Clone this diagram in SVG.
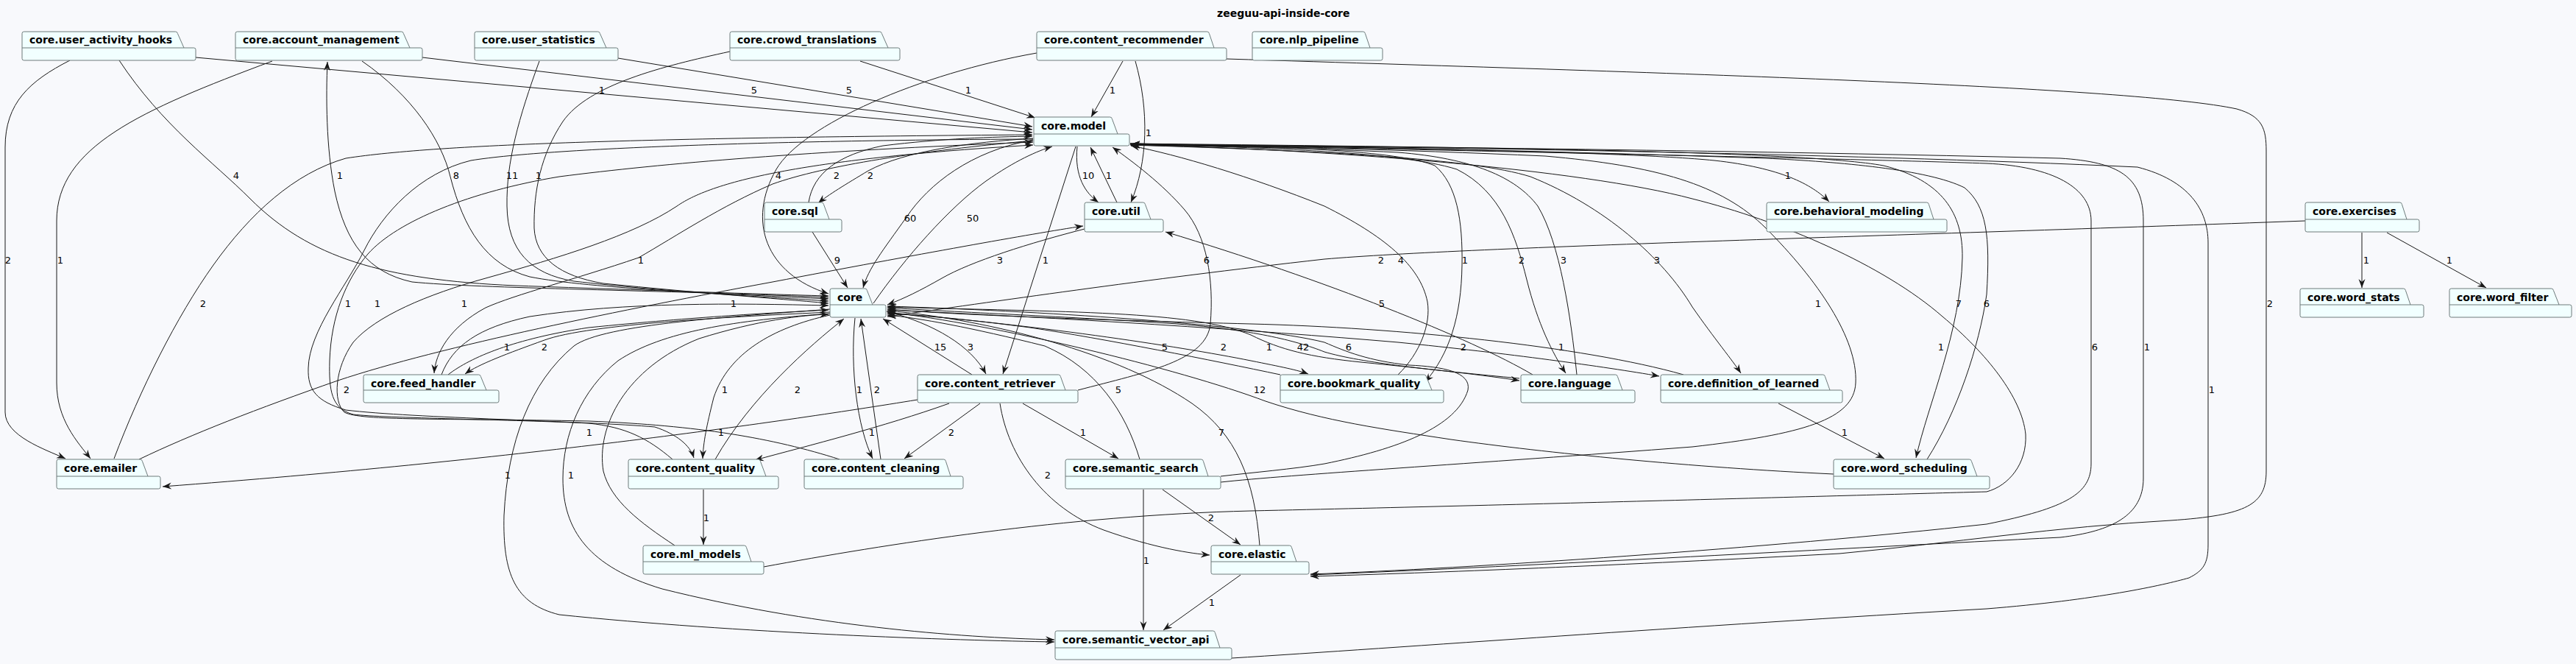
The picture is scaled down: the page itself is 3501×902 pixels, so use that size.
<svg xmlns="http://www.w3.org/2000/svg" width="3501" height="902" viewBox="0 0 3501 902">
<defs>
<style>
.pk{fill:#F1FFFF;stroke:#6E7B7B;stroke-width:1}
.tl{fill:none;stroke:#6E7B7B;stroke-width:1}
.nt{font-family:"DejaVu Sans",sans-serif;font-weight:bold;font-size:14px;fill:#000}
.e{fill:none;stroke:#181818;stroke-width:1;marker-end:url(#ah)}
.lb{font-family:"DejaVu Sans",sans-serif;font-size:13px;fill:#000;text-anchor:middle}
</style>
<marker id="ah" viewBox="0 0 12 10" refX="12" refY="5" markerWidth="12" markerHeight="10" markerUnits="userSpaceOnUse" orient="auto"><path d="M0,0.5 L12,5 L0,9.5 L4,5 Z" fill="#181818"/></marker>
</defs>
<rect x="0" y="0" width="3501" height="902" fill="#F8F9FC"/>
<text x="1654" y="23" class="nt">zeeguu-api-inside-core</text>

<g id="connectors">
<path class="e" d="M266,78 L1403,180"/>
<path class="e" d="M574,78 L1403,176"/>
<path class="e" d="M840,79 L1403,172"/>
<path class="e" d="M1169,83 L1407,160"/>
<path class="e" d="M1526,83 L1483,159"/>
<path class="e" d="M1543,83 C1562,150 1560,220 1537,275"/>
<path class="e" d="M1409,72 C1250,100 1090,170 1055,230 C1015,300 1040,372 1126,399"/>
<path class="e" d="M1667,80 C2300,100 2900,118 3040,148 C3075,158 3080,175 3080,205 L3080,640 C3080,685 3055,700 2950,707 C2800,715 2650,738 2500,752 C2200,768 1950,778 1781,783"/>
<path class="e" d="M95,82 C40,110 7,140 7,200 L7,560 C7,592 60,610 89,623"/>
<path class="e" d="M370,83 C190,150 77,200 77,300 L77,520 C77,570 105,600 123,623"/>
<path class="e" d="M162,82 C220,170 290,220 340,270 C420,350 520,380 700,388 C900,395 1050,400 1126,402"/>
<path class="e" d="M1126,404 C900,394 650,392 560,383 C500,370 470,330 455,260 C443,200 443,130 445,84"/>
<path class="e" d="M492,83 C560,130 600,190 612,240 C630,310 660,360 720,376 C800,392 1000,400 1126,406"/>
<path class="e" d="M733,83 C705,160 688,220 689,280 C690,340 720,372 780,382 C900,396 1050,404 1126,409"/>
<path class="e" d="M992,70 C900,90 800,115 765,165 C735,210 725,260 726,310 C728,350 760,375 820,385 C950,398 1050,405 1126,412"/>
<path class="e" d="M1099,275 C1105,235 1140,210 1200,198 C1280,188 1350,186 1403,185"/>
<path class="e" d="M1404,188 C1320,193 1230,205 1180,232 C1150,250 1125,265 1112,276"/>
<path class="e" d="M1464,199 C1460,240 1475,262 1493,275"/>
<path class="e" d="M1518,275 L1482,200"/>
<path class="e" d="M1536,195 C1800,200 2200,205 2330,218 C2420,228 2462,250 2486,274"/>
<path class="e" d="M1404,190 C1320,205 1262,250 1232,295 C1200,340 1180,365 1173,391"/>
<path class="e" d="M1187,412 C1230,350 1290,282 1340,246 C1380,218 1410,205 1430,199"/>
<path class="e" d="M1104,315 L1152,391"/>
<path class="e" d="M1474,311 C1400,330 1320,355 1280,378 C1250,395 1230,405 1206,414"/>
<path class="e" d="M1462,199 L1363,508"/>
<path class="e" d="M1465,530 C1560,505 1640,490 1645,440 C1650,380 1640,320 1610,285 C1580,250 1540,220 1512,200"/>
<path class="e" d="M1321,509 L1200,433"/>
<path class="e" d="M1205,423 C1270,440 1320,470 1340,508"/>
<path class="e" d="M972,624 C1020,540 1100,470 1147,433"/>
<path class="e" d="M1128,428 C1050,445 990,480 970,540 C960,580 956,600 955,623"/>
<path class="e" d="M1162,432 C1155,500 1165,580 1186,623"/>
<path class="e" d="M1197,624 L1170,433"/>
<path class="e" d="M1332,548 L1229,623"/>
<path class="e" d="M1290,548 C1200,580 1100,605 1026,625"/>
<path class="e" d="M1390,548 L1520,623"/>
<path class="e" d="M1359,548 C1370,620 1420,690 1500,720 C1570,745 1620,752 1644,754"/>
<path class="e" d="M1549,624 C1530,560 1490,500 1420,470 C1320,445 1250,432 1206,428"/>
<path class="e" d="M1712,741 C1705,650 1680,590 1620,548 C1520,480 1350,435 1206,422"/>
<path class="e" d="M1554,665 L1554,856"/>
<path class="e" d="M1580,665 L1686,740"/>
<path class="e" d="M1686,781 L1581,856"/>
<path class="e" d="M956,665 L956,740"/>
<path class="e" d="M2417,548 L2561,623"/>
<path class="e" d="M3210,316 L3210,391"/>
<path class="e" d="M3244,316 L3379,391"/>
<path class="e" d="M3133,300 C2600,320 2000,335 1800,352 C1550,380 1350,410 1206,430"/>
<path class="e" d="M2083,509 C2000,460 1800,380 1584,315"/>
<path class="e" d="M1536,196 C1700,200 1900,205 1980,230 C2040,260 2060,320 2075,380 C2090,440 2110,480 2128,507"/>
<path class="e" d="M2143,509 C2135,430 2120,330 2090,280 C2060,240 2000,215 1900,207 C1800,202 1650,198 1537,197"/>
<path class="e" d="M1536,197 C1800,205 2000,215 2080,240 C2180,280 2260,350 2300,417 C2330,460 2355,490 2366,507"/>
<path class="e" d="M1900,509 C1930,480 1945,440 1940,410 C1930,360 1880,320 1800,280 C1700,240 1600,210 1537,198"/>
<path class="e" d="M1536,196 C1750,198 1900,205 1950,225 C1980,250 1988,300 1987,360 C1986,430 1970,480 1937,519"/>
<path class="e" d="M1536,195 C2000,200 2450,205 2560,225 C2640,245 2668,290 2667,350 C2665,450 2620,550 2604,622"/>
<path class="e" d="M2619,624 C2660,560 2690,470 2700,400 C2705,320 2700,280 2670,255 C2620,230 2500,220 2400,215 C2100,205 1800,198 1537,196"/>
<path class="e" d="M1659,655 C1750,645 2000,630 2300,607 C2450,590 2520,570 2522,520 C2525,460 2470,380 2400,310 C2340,250 2250,225 2100,212 C1900,203 1700,198 1537,197"/>
<path class="e" d="M1038,770 C1200,740 1450,700 1700,694 C2100,685 2550,672 2700,668 C2730,660 2755,630 2753,590 C2748,540 2700,480 2640,430 C2560,360 2420,300 2300,270 C2150,230 1800,202 1537,197"/>
<path class="e" d="M1536,195 C2000,205 2500,215 2700,222 C2790,226 2842,255 2842,300 L2842,630 C2842,670 2810,690 2700,712 C2400,745 2000,772 1781,780"/>
<path class="e" d="M1781,781 C2100,768 2500,745 2800,730 C2870,722 2913,700 2913,650 L2913,300 C2913,240 2880,220 2800,215 C2400,205 1900,199 1537,196"/>
<path class="e" d="M1674,894 C1900,880 2300,850 2700,827 C2850,815 2940,795 2975,785 C2995,775 3001,765 3001,740 L3001,330 C3001,285 2975,245 2905,227 C2500,208 1900,199 1537,196"/>
<path class="e" d="M2492,644 C2300,635 2100,615 1972,597 C1880,583 1800,572 1720,545 C1600,500 1350,440 1206,424"/>
<path class="e" d="M1659,647 C1700,642 1760,637 1800,630 C1900,610 1980,580 1995,530 C2000,505 1960,498 1915,496 C1860,490 1830,478 1800,465 C1700,440 1400,422 1206,416"/>
<path class="e" d="M1206,417 C1450,424 1620,422 1700,455 C1740,475 1780,485 1850,492 C1950,502 2020,510 2065,517"/>
<path class="e" d="M2065,514 C1950,503 1850,493 1800,478 C1760,462 1700,448 1600,440 C1450,430 1300,424 1206,418"/>
<path class="e" d="M2288,509 C2150,470 1900,445 1700,440 C1500,435 1300,428 1206,420"/>
<path class="e" d="M1206,421 C1450,432 1700,448 1900,465 C2050,480 2180,498 2255,511"/>
<path class="e" d="M1206,425 C1400,440 1600,470 1700,490 C1740,498 1765,503 1778,508"/>
<path class="e" d="M1740,509 C1650,490 1500,460 1400,445 C1300,432 1250,428 1206,426"/>
<path class="e" d="M155,623 C190,530 240,430 290,360 C340,290 400,235 470,215 C600,195 900,187 1403,183"/>
<path class="e" d="M1404,189 C1100,190 750,200 640,218 C570,235 520,290 495,340 C470,390 420,450 419,500 C418,530 430,545 470,557 C560,568 800,572 890,580 C920,590 938,605 943,622"/>
<path class="e" d="M914,624 C880,595 850,580 800,575 C700,570 520,568 480,563 C450,555 447,530 448,490 C450,430 470,380 500,345 C540,300 640,260 760,240 C900,222 1100,205 1404,193"/>
<path class="e" d="M1141,624 C1050,595 950,578 800,572 C600,568 490,572 468,560 C452,545 455,500 480,465 C510,430 580,400 660,378 C760,350 860,320 920,280 C970,245 1100,215 1404,197"/>
<path class="e" d="M1404,191 C1250,205 1120,225 1050,250 C980,280 920,320 868,350 C780,380 700,400 660,418 C610,445 592,480 590,507"/>
<path class="e" d="M1128,424 C1000,430 800,440 740,462 C690,480 650,495 632,508"/>
<path class="e" d="M609,509 C640,485 700,460 800,445 C950,430 1050,425 1126,421"/>
<path class="e" d="M600,509 C615,470 650,445 720,430 C850,410 1000,412 1126,415"/>
<path class="e" d="M189,624 C260,590 350,555 459,517 C600,470 850,420 1050,383 C1250,345 1400,318 1472,307"/>
<path class="e" d="M1247,543 C1050,575 700,625 221,661"/>
<path class="e" d="M1128,420 C1000,430 820,440 780,470 C720,520 690,600 685,700 C683,780 700,820 760,835 C1000,860 1300,870 1433,872"/>
<path class="e" d="M1128,426 C1000,435 900,450 840,490 C790,530 765,590 765,650 C765,720 800,770 900,800 C1100,850 1300,866 1433,869"/>
<path class="e" d="M917,741 C870,710 830,680 820,640 C810,580 850,500 950,460 C1030,435 1090,428 1126,427"/>
</g>

<g id="edge-labels">
<text class="lb" x="818" y="127">1</text>
<text class="lb" x="1025" y="127">5</text>
<text class="lb" x="1154" y="127">5</text>
<text class="lb" x="1316" y="127">1</text>
<text class="lb" x="1512" y="127">1</text>
<text class="lb" x="1561" y="185">1</text>
<text class="lb" x="321" y="243">4</text>
<text class="lb" x="462" y="243">1</text>
<text class="lb" x="620" y="243">8</text>
<text class="lb" x="696" y="243">11</text>
<text class="lb" x="732" y="243">1</text>
<text class="lb" x="1058" y="243">4</text>
<text class="lb" x="1137" y="243">2</text>
<text class="lb" x="1183" y="243">2</text>
<text class="lb" x="1479" y="243">10</text>
<text class="lb" x="1507" y="243">1</text>
<text class="lb" x="2430" y="243">1</text>
<text class="lb" x="1237" y="301">60</text>
<text class="lb" x="1322" y="301">50</text>
<text class="lb" x="11" y="358">2</text>
<text class="lb" x="82" y="358">1</text>
<text class="lb" x="871" y="358">1</text>
<text class="lb" x="1138" y="358">9</text>
<text class="lb" x="1359" y="358">3</text>
<text class="lb" x="1421" y="358">1</text>
<text class="lb" x="1640" y="358">6</text>
<text class="lb" x="1877" y="358">2</text>
<text class="lb" x="1904" y="358">4</text>
<text class="lb" x="1991" y="358">1</text>
<text class="lb" x="2068" y="358">2</text>
<text class="lb" x="2125" y="358">3</text>
<text class="lb" x="2252" y="358">3</text>
<text class="lb" x="3216" y="358">1</text>
<text class="lb" x="3329" y="358">1</text>
<text class="lb" x="276" y="417">2</text>
<text class="lb" x="473" y="417">1</text>
<text class="lb" x="513" y="417">1</text>
<text class="lb" x="631" y="417">1</text>
<text class="lb" x="997" y="417">1</text>
<text class="lb" x="1878" y="417">5</text>
<text class="lb" x="2471" y="417">1</text>
<text class="lb" x="2662" y="417">7</text>
<text class="lb" x="2700" y="417">6</text>
<text class="lb" x="3085" y="417">2</text>
<text class="lb" x="689" y="476">1</text>
<text class="lb" x="740" y="476">2</text>
<text class="lb" x="1278" y="476">15</text>
<text class="lb" x="1319" y="476">3</text>
<text class="lb" x="1583" y="476">5</text>
<text class="lb" x="1663" y="476">2</text>
<text class="lb" x="1725" y="476">1</text>
<text class="lb" x="1771" y="476">42</text>
<text class="lb" x="1833" y="476">6</text>
<text class="lb" x="1989" y="476">2</text>
<text class="lb" x="2122" y="476">1</text>
<text class="lb" x="2638" y="476">1</text>
<text class="lb" x="2847" y="476">6</text>
<text class="lb" x="2918" y="476">1</text>
<text class="lb" x="471" y="534">2</text>
<text class="lb" x="985" y="534">1</text>
<text class="lb" x="1084" y="534">2</text>
<text class="lb" x="1168" y="534">1</text>
<text class="lb" x="1192" y="534">2</text>
<text class="lb" x="1520" y="534">5</text>
<text class="lb" x="1712" y="534">12</text>
<text class="lb" x="3006" y="534">1</text>
<text class="lb" x="801" y="592">1</text>
<text class="lb" x="980" y="592">1</text>
<text class="lb" x="1185" y="592">1</text>
<text class="lb" x="1293" y="592">2</text>
<text class="lb" x="1472" y="592">1</text>
<text class="lb" x="1660" y="592">7</text>
<text class="lb" x="2507" y="592">1</text>
<text class="lb" x="690" y="650">1</text>
<text class="lb" x="776" y="650">1</text>
<text class="lb" x="1424" y="650">2</text>
<text class="lb" x="960" y="708">1</text>
<text class="lb" x="1646" y="708">2</text>
<text class="lb" x="1558" y="766">1</text>
<text class="lb" x="1647" y="823">1</text>
</g>

<g id="n-user_activity_hooks"><path class="pk" d="M32.5,43 L238.5,43 Q241,43 241.4,45.5 L250,65 L263.5,65 Q266,65 266,67.5 L266,79.5 Q266,82 263.5,82 L32.5,82 Q30,82 30,79.5 L30,45.5 Q30,43 32.5,43 Z"/><path class="tl" d="M30,65 L250,65"/><text class="nt" x="40" y="59">core.user_activity_hooks</text></g>
<g id="n-account_management"><path class="pk" d="M322.5,43 L545.5,43 Q548,43 548.4,45.5 L557,65 L571.5,65 Q574,65 574,67.5 L574,79.5 Q574,82 571.5,82 L322.5,82 Q320,82 320,79.5 L320,45.5 Q320,43 322.5,43 Z"/><path class="tl" d="M320,65 L557,65"/><text class="nt" x="330" y="59">core.account_management</text></g>
<g id="n-user_statistics"><path class="pk" d="M647.5,43 L812.5,43 Q815,43 815.4,45.5 L824,65 L837.5,65 Q840,65 840,67.5 L840,79.5 Q840,82 837.5,82 L647.5,82 Q645,82 645,79.5 L645,45.5 Q645,43 647.5,43 Z"/><path class="tl" d="M645,65 L824,65"/><text class="nt" x="655" y="59">core.user_statistics</text></g>
<g id="n-crowd_translations"><path class="pk" d="M994.5,43 L1195.5,43 Q1198,43 1198.4,45.5 L1207,65 L1220.5,65 Q1223,65 1223,67.5 L1223,79.5 Q1223,82 1220.5,82 L994.5,82 Q992,82 992,79.5 L992,45.5 Q992,43 994.5,43 Z"/><path class="tl" d="M992,65 L1207,65"/><text class="nt" x="1002" y="59">core.crowd_translations</text></g>
<g id="n-content_recommender"><path class="pk" d="M1411.5,43 L1640.5,43 Q1643,43 1643.4,45.5 L1650,65 L1664.5,65 Q1667,65 1667,67.5 L1667,79.5 Q1667,82 1664.5,82 L1411.5,82 Q1409,82 1409,79.5 L1409,45.5 Q1409,43 1411.5,43 Z"/><path class="tl" d="M1409,65 L1650,65"/><text class="nt" x="1419" y="59">core.content_recommender</text></g>
<g id="n-nlp_pipeline"><path class="pk" d="M1704.5,43 L1852.5,43 Q1855,43 1855.4,45.5 L1862,65 L1876.5,65 Q1879,65 1879,67.5 L1879,79.5 Q1879,82 1876.5,82 L1704.5,82 Q1702,82 1702,79.5 L1702,45.5 Q1702,43 1704.5,43 Z"/><path class="tl" d="M1702,65 L1862,65"/><text class="nt" x="1712" y="59">core.nlp_pipeline</text></g>
<g id="n-model"><path class="pk" d="M1407.5,159 L1508.5,159 Q1511,159 1511.4,161.5 L1519,182 L1532.5,182 Q1535,182 1535,184.5 L1535,195.5 Q1535,198 1532.5,198 L1407.5,198 Q1405,198 1405,195.5 L1405,161.5 Q1405,159 1407.5,159 Z"/><path class="tl" d="M1405,182 L1519,182"/><text class="nt" x="1415" y="176">core.model</text></g>
<g id="n-sql"><path class="pk" d="M1041.5,275 L1116.5,275 Q1119,275 1119.4,277.5 L1127,298 L1141.5,298 Q1144,298 1144,300.5 L1144,312.5 Q1144,315 1141.5,315 L1041.5,315 Q1039,315 1039,312.5 L1039,277.5 Q1039,275 1041.5,275 Z"/><path class="tl" d="M1039,298 L1127,298"/><text class="nt" x="1049" y="292">core.sql</text></g>
<g id="n-util"><path class="pk" d="M1476.5,275 L1553.5,275 Q1556,275 1556.4,277.5 L1564,298 L1578.5,298 Q1581,298 1581,300.5 L1581,312.5 Q1581,315 1578.5,315 L1476.5,315 Q1474,315 1474,312.5 L1474,277.5 Q1474,275 1476.5,275 Z"/><path class="tl" d="M1474,298 L1564,298"/><text class="nt" x="1484" y="292">core.util</text></g>
<g id="n-behavioral_modeling"><path class="pk" d="M2403.5,275 L2618.5,275 Q2621,275 2621.4,277.5 L2628,298 L2643.5,298 Q2646,298 2646,300.5 L2646,312.5 Q2646,315 2643.5,315 L2403.5,315 Q2401,315 2401,312.5 L2401,277.5 Q2401,275 2403.5,275 Z"/><path class="tl" d="M2401,298 L2628,298"/><text class="nt" x="2411" y="292">core.behavioral_modeling</text></g>
<g id="n-exercises"><path class="pk" d="M3135.5,275 L3261.5,275 Q3264,275 3264.4,277.5 L3271,298 L3285.5,298 Q3288,298 3288,300.5 L3288,312.5 Q3288,315 3285.5,315 L3135.5,315 Q3133,315 3133,312.5 L3133,277.5 Q3133,275 3135.5,275 Z"/><path class="tl" d="M3133,298 L3271,298"/><text class="nt" x="3143" y="292">core.exercises</text></g>
<g id="n-core"><path class="pk" d="M1130.5,392 L1175.5,392 Q1178,392 1178.4,394.5 L1186,414 L1201.5,414 Q1204,414 1204,416.5 L1204,428.5 Q1204,431 1201.5,431 L1130.5,431 Q1128,431 1128,428.5 L1128,394.5 Q1128,392 1130.5,392 Z"/><path class="tl" d="M1128,414 L1186,414"/><text class="nt" x="1138" y="409">core</text></g>
<g id="n-word_stats"><path class="pk" d="M3128.5,392 L3266.5,392 Q3269,392 3269.4,394.5 L3276,414 L3291.5,414 Q3294,414 3294,416.5 L3294,428.5 Q3294,431 3291.5,431 L3128.5,431 Q3126,431 3126,428.5 L3126,394.5 Q3126,392 3128.5,392 Z"/><path class="tl" d="M3126,414 L3276,414"/><text class="nt" x="3136" y="409">core.word_stats</text></g>
<g id="n-word_filter"><path class="pk" d="M3331.5,392 L3467.5,392 Q3470,392 3470.4,394.5 L3478,414 L3492.5,414 Q3495,414 3495,416.5 L3495,428.5 Q3495,431 3492.5,431 L3331.5,431 Q3329,431 3329,428.5 L3329,394.5 Q3329,392 3331.5,392 Z"/><path class="tl" d="M3329,414 L3478,414"/><text class="nt" x="3339" y="409">core.word_filter</text></g>
<g id="n-feed_handler"><path class="pk" d="M496.5,509 L650.5,509 Q653,509 653.4,511.5 L661,530 L675.5,530 Q678,530 678,532.5 L678,544.5 Q678,547 675.5,547 L496.5,547 Q494,547 494,544.5 L494,511.5 Q494,509 496.5,509 Z"/><path class="tl" d="M494,530 L661,530"/><text class="nt" x="504" y="526">core.feed_handler</text></g>
<g id="n-content_retriever"><path class="pk" d="M1249.5,509 L1438.5,509 Q1441,509 1441.4,511.5 L1448,530 L1462.5,530 Q1465,530 1465,532.5 L1465,544.5 Q1465,547 1462.5,547 L1249.5,547 Q1247,547 1247,544.5 L1247,511.5 Q1247,509 1249.5,509 Z"/><path class="tl" d="M1247,530 L1448,530"/><text class="nt" x="1257" y="526">core.content_retriever</text></g>
<g id="n-bookmark_quality"><path class="pk" d="M1742.5,509 L1935.5,509 Q1938,509 1938.4,511.5 L1946,530 L1959.5,530 Q1962,530 1962,532.5 L1962,544.5 Q1962,547 1959.5,547 L1742.5,547 Q1740,547 1740,544.5 L1740,511.5 Q1740,509 1742.5,509 Z"/><path class="tl" d="M1740,530 L1946,530"/><text class="nt" x="1750" y="526">core.bookmark_quality</text></g>
<g id="n-language"><path class="pk" d="M2069.5,509 L2195.5,509 Q2198,509 2198.4,511.5 L2205,530 L2219.5,530 Q2222,530 2222,532.5 L2222,544.5 Q2222,547 2219.5,547 L2069.5,547 Q2067,547 2067,544.5 L2067,511.5 Q2067,509 2069.5,509 Z"/><path class="tl" d="M2067,530 L2205,530"/><text class="nt" x="2077" y="526">core.language</text></g>
<g id="n-definition_of_learned"><path class="pk" d="M2259.5,509 L2477.5,509 Q2480,509 2480.4,511.5 L2487,530 L2501.5,530 Q2504,530 2504,532.5 L2504,544.5 Q2504,547 2501.5,547 L2259.5,547 Q2257,547 2257,544.5 L2257,511.5 Q2257,509 2259.5,509 Z"/><path class="tl" d="M2257,530 L2487,530"/><text class="nt" x="2267" y="526">core.definition_of_learned</text></g>
<g id="n-emailer"><path class="pk" d="M79.5,624 L190.5,624 Q193,624 193.4,626.5 L201,647 L215.5,647 Q218,647 218,649.5 L218,661.5 Q218,664 215.5,664 L79.5,664 Q77,664 77,661.5 L77,626.5 Q77,624 79.5,624 Z"/><path class="tl" d="M77,647 L201,647"/><text class="nt" x="87" y="641">core.emailer</text></g>
<g id="n-content_quality"><path class="pk" d="M856.5,624 L1030.5,624 Q1033,624 1033.4,626.5 L1041,647 L1055.5,647 Q1058,647 1058,649.5 L1058,661.5 Q1058,664 1055.5,664 L856.5,664 Q854,664 854,661.5 L854,626.5 Q854,624 856.5,624 Z"/><path class="tl" d="M854,647 L1041,647"/><text class="nt" x="864" y="641">core.content_quality</text></g>
<g id="n-content_cleaning"><path class="pk" d="M1095.5,624 L1282.5,624 Q1285,624 1285.4,626.5 L1292,647 L1306.5,647 Q1309,647 1309,649.5 L1309,661.5 Q1309,664 1306.5,664 L1095.5,664 Q1093,664 1093,661.5 L1093,626.5 Q1093,624 1095.5,624 Z"/><path class="tl" d="M1093,647 L1292,647"/><text class="nt" x="1103" y="641">core.content_cleaning</text></g>
<g id="n-semantic_search"><path class="pk" d="M1450.5,624 L1632.5,624 Q1635,624 1635.4,626.5 L1642,647 L1656.5,647 Q1659,647 1659,649.5 L1659,661.5 Q1659,664 1656.5,664 L1450.5,664 Q1448,664 1448,661.5 L1448,626.5 Q1448,624 1450.5,624 Z"/><path class="tl" d="M1448,647 L1642,647"/><text class="nt" x="1458" y="641">core.semantic_search</text></g>
<g id="n-word_scheduling"><path class="pk" d="M2494.5,624 L2676.5,624 Q2679,624 2679.4,626.5 L2687,647 L2701.5,647 Q2704,647 2704,649.5 L2704,661.5 Q2704,664 2701.5,664 L2494.5,664 Q2492,664 2492,661.5 L2492,626.5 Q2492,624 2494.5,624 Z"/><path class="tl" d="M2492,647 L2687,647"/><text class="nt" x="2502" y="641">core.word_scheduling</text></g>
<g id="n-ml_models"><path class="pk" d="M876.5,741 L1011.5,741 Q1014,741 1014.4,743.5 L1021,763 L1035.5,763 Q1038,763 1038,765.5 L1038,777.5 Q1038,780 1035.5,780 L876.5,780 Q874,780 874,777.5 L874,743.5 Q874,741 876.5,741 Z"/><path class="tl" d="M874,763 L1021,763"/><text class="nt" x="884" y="758">core.ml_models</text></g>
<g id="n-elastic"><path class="pk" d="M1648.5,741 L1752.5,741 Q1755,741 1755.4,743.5 L1762,763 L1776.5,763 Q1779,763 1779,765.5 L1779,777.5 Q1779,780 1776.5,780 L1648.5,780 Q1646,780 1646,777.5 L1646,743.5 Q1646,741 1648.5,741 Z"/><path class="tl" d="M1646,763 L1762,763"/><text class="nt" x="1656" y="758">core.elastic</text></g>
<g id="n-semantic_vector_api"><path class="pk" d="M1436.5,857 L1648.5,857 Q1651,857 1651.4,859.5 L1658,880 L1671.5,880 Q1674,880 1674,882.5 L1674,893.5 Q1674,896 1671.5,896 L1436.5,896 Q1434,896 1434,893.5 L1434,859.5 Q1434,857 1436.5,857 Z"/><path class="tl" d="M1434,880 L1658,880"/><text class="nt" x="1444" y="874">core.semantic_vector_api</text></g>
</svg>
